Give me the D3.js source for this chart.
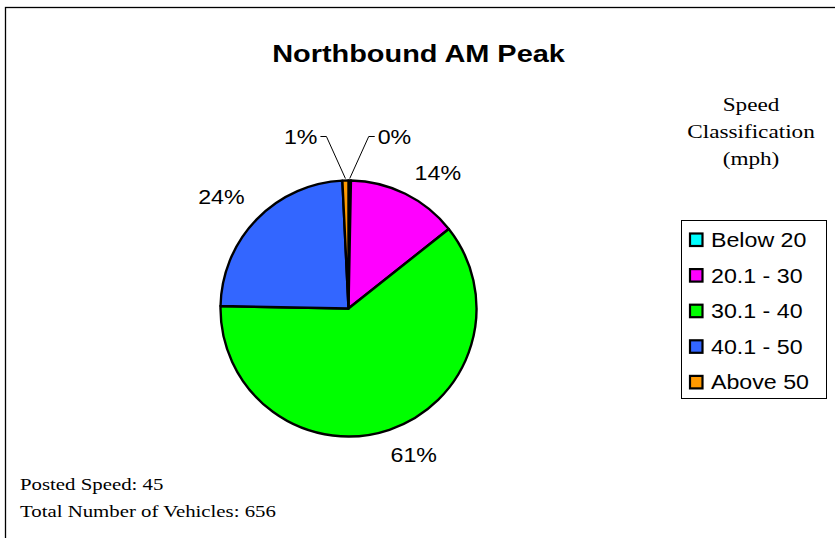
<!DOCTYPE html>
<html>
<head>
<meta charset="utf-8">
<script src="https://cdn.jsdelivr.net/npm/d3@7"></script>
<style>
  html, body { margin: 0; padding: 0; background: #fff; }
  svg { display: block; }
</style>
</head>
<body>
<svg id="chart" width="835" height="538"></svg>
<script>
// Vehicle counts per speed class (mph)
const categories = ["Below 20", "20.1 - 30", "30.1 - 40", "40.1 - 50", "Above 50"];
const counts = [2, 92, 400, 157, 5];
const colors = ["#00FFFF", "#FF00FF", "#00FF00", "#3366FF", "#FF9900"];
const title = "Northbound AM Peak";
const legendTitle = ["Speed", "Classification", "(mph)"];
const notes = ["Posted Speed: 45", "Total Number of Vehicles: 656"];

const svg = d3.select("#chart");
const W = 835, H = 538;
const sans = "Arial, 'Liberation Sans', sans-serif";
const serif = "'Liberation Serif', 'Times New Roman', serif";
const SX = 1.19; // wide glyph rendering of the chart's text

// place a text element at (x, y) with horizontally widened glyphs
function placeText(sel, x, y) {
  sel.attr("x", 0).attr("y", 0)
     .attr("transform", `translate(${x},${y}) scale(${SX},1)`);
  return sel;
}

// outer chart frame
svg.append("rect")
  .attr("x", 5.5).attr("y", 7.5)
  .attr("width", W + 10).attr("height", H + 10)
  .attr("fill", "#fff").attr("stroke", "#000").attr("stroke-width", 1.3);

placeText(svg.append("text"), 418.5, 62)
  .attr("text-anchor", "middle")
  .attr("font-family", sans)
  .attr("font-weight", "bold").attr("font-size", 24.3)
  .text(title);

const total = d3.sum(counts);
const data = categories.map((c, i) => ({ cat: c, value: counts[i], color: colors[i] }));

const cx = 348.5, cy = 308.5, R = 128;
const pie = d3.pie().value(d => d.value).sort(null);
const arcs = pie(data);
const arc = d3.arc().innerRadius(0).outerRadius(R);

const g = svg.append("g").attr("transform", `translate(${cx},${cy})`);
g.selectAll("path.slice")
  .data(arcs)
  .enter().append("path")
  .attr("class", "slice")
  .attr("d", arc)
  .attr("fill", d => d.data.color)
  .attr("stroke", "#000").attr("stroke-width", 2.4)
  .attr("stroke-linejoin", "round");

const pct = d3.format(".0%");
// angle nudge (rad) and radius factor for the outside labels of larger slices
const labelNudge = { 1: [0.122, 1.27], 2: [-0.094, 1.25], 3: [-0.052, 1.32] };

arcs.forEach((a, i) => {
  const mid = (a.startAngle + a.endAngle) / 2;
  const share = a.data.value / total;
  const txt = pct(share);
  if (share < 0.02) {
    // tiny slices: label lifted above the pie with a leader line
    const ex = Math.sin(mid) * R, ey = -Math.cos(mid) * R;
    const side = mid < Math.PI ? 1 : -1;
    const lx = ex + side * 19, ly = -R - 44;
    g.append("polyline")
      .attr("points", `${ex},${ey - 2} ${lx},${ly} ${lx + side * 6},${ly}`)
      .attr("fill", "none").attr("stroke", "#000").attr("stroke-width", 1);
    placeText(g.append("text"), lx + side * 9, ly + 7)
      .attr("text-anchor", side > 0 ? "start" : "end")
      .attr("font-family", sans).attr("font-size", 19.5)
      .text(txt);
  } else {
    const [adj, k] = labelNudge[i];
    const ang = mid + adj, lr = R * k;
    placeText(g.append("text"), Math.sin(ang) * lr, -Math.cos(ang) * lr + 7)
      .attr("text-anchor", "middle")
      .attr("font-family", sans).attr("font-size", 19.5)
      .text(txt);
  }
});

// legend title
legendTitle.forEach((t, i) => {
  placeText(svg.append("text"), 751, 111 + i * 27)
    .attr("text-anchor", "middle")
    .attr("font-family", serif)
    .attr("font-size", 19.5)
    .text(t);
});

// legend box
svg.append("rect")
  .attr("x", 681.5).attr("y", 220.5).attr("width", 145).attr("height", 178)
  .attr("fill", "#fff").attr("stroke", "#000").attr("stroke-width", 1);

const items = svg.append("g").selectAll("g")
  .data(data).enter().append("g")
  .attr("transform", (d, i) => `translate(689,${240 + i * 35.6})`);
items.append("rect")
  .attr("x", 1).attr("y", -6.5).attr("width", 12.5).attr("height", 12.5)
  .attr("fill", d => d.color).attr("stroke", "#000").attr("stroke-width", 2.2);
items.each(function(d) {
  placeText(d3.select(this).append("text"), 22, 7)
    .attr("font-family", sans).attr("font-size", 19.5)
    .text(d.cat);
});

// notes
notes.forEach((t, i) => {
  placeText(svg.append("text"), 20, 490 + i * 27)
    .attr("font-family", serif)
    .attr("font-size", 17.5)
    .text(t);
});
</script>
</body>
</html>
